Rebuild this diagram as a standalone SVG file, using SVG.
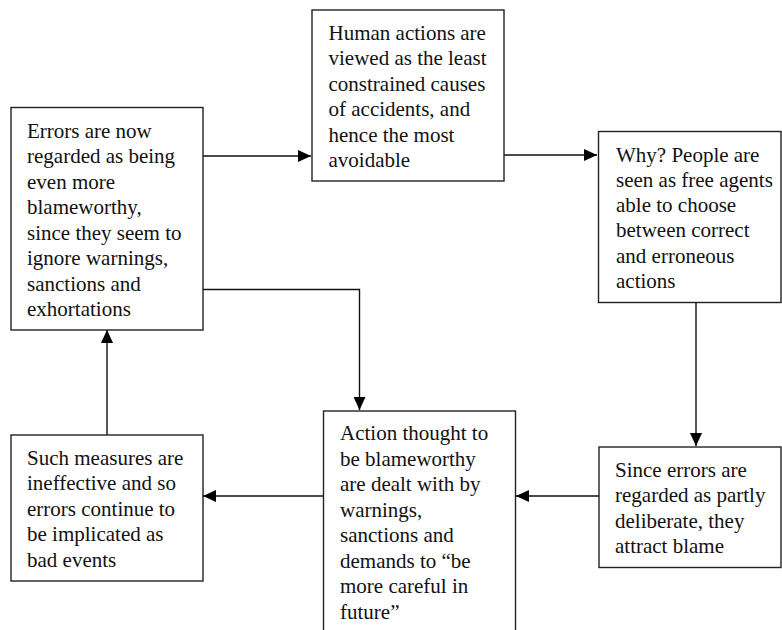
<svg xmlns="http://www.w3.org/2000/svg" width="782" height="630" viewBox="0 0 782 630">
  <style>
    .box { fill: #ffffff; stroke: #222222; stroke-width: 1.4; }
    .label { font-family: "Liberation Serif", "Times New Roman", serif; font-size: 21px; fill: #111111; }
    .link { fill: none; stroke: #111111; stroke-width: 1.4; }
  </style>
  <defs>
    <marker id="arrow" markerUnits="userSpaceOnUse" markerWidth="13" markerHeight="12" refX="13" refY="6" orient="auto">
      <path d="M0,0 L13,6 L0,12 Z" fill="#000000"/>
    </marker>
  </defs>
  <rect width="782" height="630" fill="#ffffff"/>

  <g id="connectors">
    <path class="link" d="M203,156 H311" marker-end="url(#arrow)"/>
    <path class="link" d="M504,155 H597" marker-end="url(#arrow)"/>
    <path class="link" d="M696,303 V446" marker-end="url(#arrow)"/>
    <path class="link" d="M599,496 H516" marker-end="url(#arrow)"/>
    <path class="link" d="M323,496 H203" marker-end="url(#arrow)"/>
    <path class="link" d="M107,435 V330" marker-end="url(#arrow)"/>
    <path class="link" d="M203,289.5 H359.5 V410" marker-end="url(#arrow)"/>
  </g>

  <g id="node-blameworthy">
    <rect class="box" x="11" y="107.5" width="192" height="222.5"/>
    <text class="label">
      <tspan x="27" y="137.5">Errors are now</tspan>
      <tspan x="27" y="163">regarded as being</tspan>
      <tspan x="27" y="188.5">even more</tspan>
      <tspan x="27" y="214">blameworthy,</tspan>
      <tspan x="27" y="239.5">since they seem to</tspan>
      <tspan x="27" y="265">ignore warnings,</tspan>
      <tspan x="27" y="290.5">sanctions and</tspan>
      <tspan x="27" y="316">exhortations</tspan>
    </text>
  </g>

  <g id="node-human-actions">
    <rect class="box" x="312" y="10" width="192" height="171"/>
    <text class="label">
      <tspan x="328.5" y="39.5">Human actions are</tspan>
      <tspan x="328.5" y="65">viewed as the least</tspan>
      <tspan x="328.5" y="90.5">constrained causes</tspan>
      <tspan x="328.5" y="116">of accidents, and</tspan>
      <tspan x="328.5" y="141.5">hence the most</tspan>
      <tspan x="328.5" y="167">avoidable</tspan>
    </text>
  </g>

  <g id="node-free-agents">
    <rect class="box" x="598.5" y="131.5" width="182.5" height="171"/>
    <text class="label">
      <tspan x="616" y="161.5">Why? People are</tspan>
      <tspan x="616" y="186.8">seen as free agents</tspan>
      <tspan x="616" y="212.1">able to choose</tspan>
      <tspan x="616" y="237.4">between correct</tspan>
      <tspan x="616" y="262.7">and erroneous</tspan>
      <tspan x="616" y="288">actions</tspan>
    </text>
  </g>

  <g id="node-attract-blame">
    <rect class="box" x="599" y="447" width="182" height="120.5"/>
    <text class="label">
      <tspan x="615" y="477">Since errors are</tspan>
      <tspan x="615" y="502.3">regarded as partly</tspan>
      <tspan x="615" y="527.6">deliberate, they</tspan>
      <tspan x="615" y="553">attract blame</tspan>
    </text>
  </g>

  <g id="node-dealt-with">
    <rect class="box" x="323.5" y="411" width="192" height="240"/>
    <text class="label">
      <tspan x="340" y="440">Action thought to</tspan>
      <tspan x="340" y="465.5">be blameworthy</tspan>
      <tspan x="340" y="491">are dealt with by</tspan>
      <tspan x="340" y="516.5">warnings,</tspan>
      <tspan x="340" y="542">sanctions and</tspan>
      <tspan x="340" y="567.5">demands to “be</tspan>
      <tspan x="340" y="593">more careful in</tspan>
      <tspan x="340" y="618.5">future”</tspan>
    </text>
  </g>

  <g id="node-ineffective">
    <rect class="box" x="11" y="435" width="192" height="146"/>
    <text class="label">
      <tspan x="27" y="464.5">Such measures are</tspan>
      <tspan x="27" y="490">ineffective and so</tspan>
      <tspan x="27" y="515.5">errors continue to</tspan>
      <tspan x="27" y="541">be implicated as</tspan>
      <tspan x="27" y="566.5">bad events</tspan>
    </text>
  </g>
</svg>
